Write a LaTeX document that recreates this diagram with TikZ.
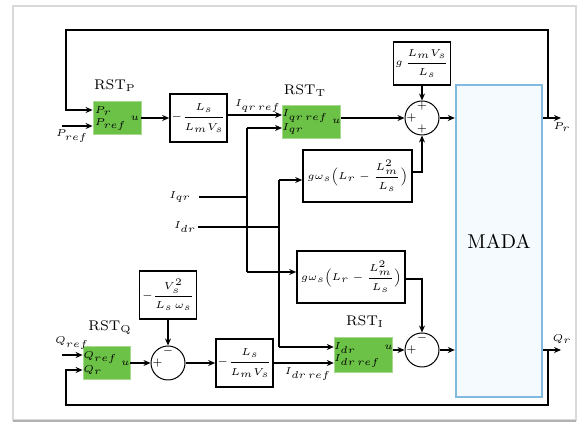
\documentclass[tikz,border=0pt]{standalone}
\usepackage{amsmath}
\usetikzlibrary{arrows.meta,calc}
\definecolor{rstgreen}{RGB}{108,194,70}
\definecolor{madablue}{RGB}{130,185,222}
\definecolor{madafill}{RGB}{245,250,254}
\begin{document}
\begin{tikzpicture}[x=0.5pt,y=-0.5pt,
  >={Stealth[length=3.5pt,width=3pt]},
  line/.style={line width=0.75pt},
  blk/.style={draw,line width=0.8pt,inner sep=0pt,font=\tiny},
  rst/.style={fill=rstgreen,draw=rstgreen!60!white,line width=0.4pt,inner sep=0pt,font=\tiny},
  sumc/.style={draw,circle,minimum size=17pt,inner sep=0pt,line width=0.5pt},
  lab/.style={font=\tiny,inner sep=1pt},
  rstlab/.style={font=\scriptsize,inner sep=0pt},
  sg/.style={font=\tiny,inner sep=0pt}
]
\useasboundingbox (0,0) rectangle (584,426);
\fill[white] (0,0) rectangle (584,426);
% frame
\draw[gray!30,line width=1.4pt] (13,6) rectangle (576,420);
\draw[gray!60,line width=1.4pt] (13,421) -- (576,421);

% blocks
\node[rst,minimum width=24pt,minimum height=16.5pt] (rstp) at (117,118) {$\begin{array}{@{}l@{}}P_r\\P_{ref}\end{array}\;u$};
\node[rstlab] at (115,86) {RST$_{\mathrm{P}}$};
\node[blk,minimum width=28.5pt,minimum height=24pt] (b1) at (198.5,118) {$-\dfrac{L_s}{L_m V_s}$};
\node[rst,minimum width=23.5pt,minimum height=16.5pt] (rstt) at (311.5,121.5) {$\begin{array}{@{}l@{}}I_{qr\,ref}\\I_{qr}\end{array}\;u$};
\node[rstlab] at (305,91) {RST$_{\mathrm{T}}$};
\node[blk,minimum width=28.5pt,minimum height=21.5pt] (gtop) at (422,63.5) {$g\,\dfrac{L_m V_s}{L_s}$};
\node[sumc] (s1) at (422,118) {};
\node[blk,minimum width=54.5pt,minimum height=26pt] (gw1) at (357.5,176) {$g\omega_s\Bigl(L_r-\dfrac{L_m^{2}}{L_s}\Bigr)$};
\node[draw=madablue,fill=madafill,line width=1.2pt,minimum width=43pt,minimum height=156pt,inner sep=0pt,font=\normalsize] (mada) at (499,241) {MADA};
\node[blk,minimum width=54pt,minimum height=26pt] (gw2) at (351,277) {$g\omega_s\Bigl(L_r-\dfrac{L_m^{2}}{L_s}\Bigr)$};
\node[sumc] (s2) at (422,350) {};
\node[rst,minimum width=23.5pt,minimum height=17.5pt] (rstd) at (363.5,354.5) {$\begin{array}{@{}l@{\;}l@{}}I_{dr} & u\\I_{dr\,ref} & \end{array}$};
\node[rstlab] at (365,322) {RST$_{\mathrm{I}}$};
\node[rst,minimum width=23.5pt,minimum height=16.5pt] (rstq) at (106.5,363) {$\begin{array}{@{}l@{}}Q_{ref}\\Q_r\end{array}\;u$};
\node[rstlab] at (110,328) {RST$_{\mathrm{Q}}$};
\node[blk,minimum width=28.5pt,minimum height=24pt] (bq) at (168,295) {$-\dfrac{V_s^{2}}{L_s\,\omega_s}$};
\node[sumc] (s3) at (168,363) {};
\node[blk,minimum width=28.5pt,minimum height=24pt] (b2) at (244.5,363) {$-\dfrac{L_s}{L_m V_s}$};

% signs
\node[sg] at ($(s1.north)+(0,6)$) {$+$};
\node[sg] at ($(s1.west)+(7,0)$) {$+$};
\node[sg] at ($(s1.south)+(0,-6)$) {$+$};
\node[sg] at ($(s2.north)+(0,6)$) {$-$};
\node[sg] at ($(s2.west)+(7,0)$) {$+$};
\node[sg] at ($(s3.north)+(0,6)$) {$-$};
\node[sg] at ($(s3.west)+(7,0)$) {$+$};

% input labels
\node[lab] (pref) at (72,136) {$P_{ref}$};
\node[lab] (qref) at (72,343) {$Q_{ref}$};
\node[lab] (iqr) at (180,197) {$I_{qr}$};
\node[lab] (idr) at (185,227) {$I_{dr}$};
\node[lab] at (258,106) {$I_{qr\,ref}$};
\node[lab] at (308,374) {$I_{dr\,ref}$};
\node[lab] at (562,127) {$P_r$};
\node[lab] at (562,339) {$Q_r$};

% coordinates
\coordinate (prefin) at (62,126);
\coordinate (qrefin) at (62,355);
\coordinate (fbP) at (548,118);
\coordinate (fbPtop) at (66,30);
\coordinate (fbQ) at (548,350);
\coordinate (fbQbot) at (66,405);
\coordinate (pr) at (561,118);
\coordinate (qr) at (561,350);
\coordinate (qtop) at (247,128);
\coordinate (qbot) at (247,272);
\coordinate (dtop) at (279,180);
\coordinate (dbot) at (279,347);

% connectors
\begin{scope}[line]
\draw[->] (rstp) -- (b1);
\draw[->] ([yshift=1.5pt]b1.east) -- ([yshift=3.25pt]rstt.west);
\draw[->] (rstt.east |- s1) -- (s1.west);
\draw[->] (gtop) -- (s1.north);
\draw[->] ([yshift=2pt]gw1.east) -| (s1.south);
\draw[->] (s1.east) -- (s1 -| mada.west);
\draw[->] (s1 -| mada.east) -- (pr);
\draw[->] (fbP) |- (fbPtop) |- ([yshift=4pt]rstp.west);
\draw[->] (prefin) -- (prefin -| rstp.west);

\draw ([xshift=3pt]iqr.east) -- (iqr.east -| qtop);
\draw (qtop) -- (qbot);
\draw[->] (qtop) -- ([yshift=-3.25pt]rstt.west);
\draw[->] (qbot) -- (qbot -| gw2.west);
\draw (idr.east) -- (idr.east -| dtop);
\draw (dtop) -- (dbot);
\draw[->] (dtop) -- (dtop -| gw1.west);
\draw[->] (dbot) -- (dbot -| rstd.west);

\draw[->] ([yshift=-1pt]gw2.east) -| (s2.north);
\draw[->] (rstd.east |- s2) -- (s2.west);
\draw[->] (s2.east) -- (s2 -| mada.west);
\draw[->] (s2 -| mada.east) -- (qr);
\draw[->] (fbQ) |- (fbQbot) |- ([yshift=-3.5pt]rstq.west);
\draw[->] (qrefin) -- (qrefin -| rstq.west);
\draw[->] (rstq) -- (s3);
\draw[->] (bq) -- (s3.north);
\draw[->] (s3) -- (b2);
\draw[->] (b2.east) -- (b2.east -| rstd.west);
\end{scope}
\end{tikzpicture}
\end{document}
